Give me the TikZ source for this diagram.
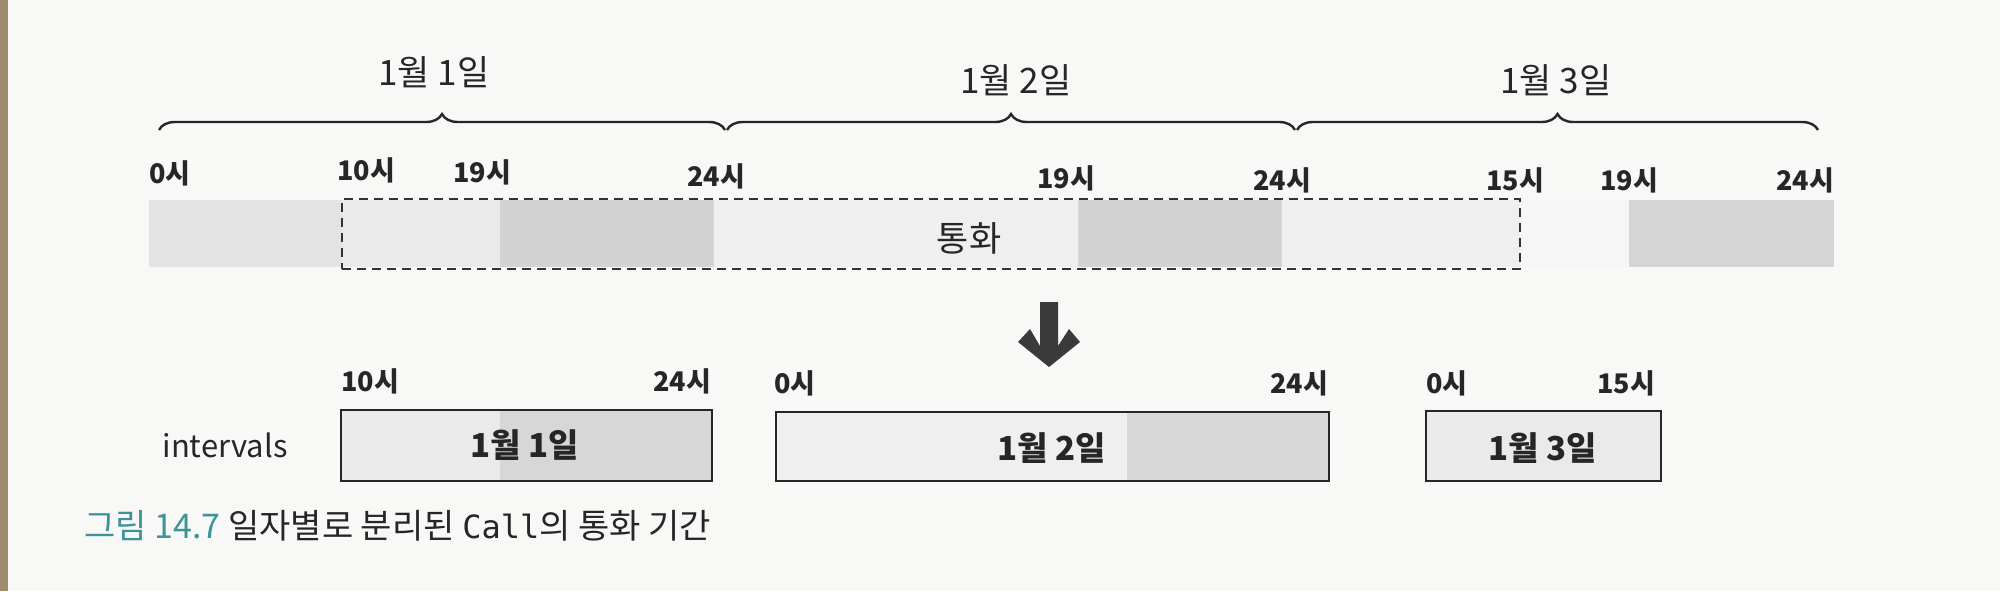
\documentclass[tikz,border=0pt]{standalone}
\usepackage{fontspec}
\setmainfont{Noto Sans CJK KR}
\newfontfamily\monofont{DejaVu Sans Mono}
\usetikzlibrary{decorations.pathreplacing,fit}
\definecolor{bg}{HTML}{F8F8F7}
\definecolor{edge}{HTML}{A08C6C}
\definecolor{txt}{HTML}{262626}
\definecolor{capteal}{HTML}{3C9499}
\definecolor{sA}{HTML}{E3E3E3}
\definecolor{sB}{HTML}{EAEAEA}
\definecolor{sC}{HTML}{D3D3D3}
\definecolor{sD}{HTML}{EFEFEF}
\definecolor{sE}{HTML}{F6F6F6}
\definecolor{arrowc}{HTML}{3A3A3A}
\begin{document}
\begin{tikzpicture}[x=0.5pt,y=-0.5pt,
  hour/.style={font=\fontsize{13.5}{15}\selectfont\bfseries, text=txt, inner sep=0},
  datelbl/.style={font=\fontsize{17.5}{19}\selectfont, text=txt, inner sep=0},
  boxlbl/.style={font=\fontsize{16.5}{18}\selectfont\bfseries, text=txt, inner sep=0},
  bracestyle/.style={decorate, decoration={brace, amplitude=8pt, aspect=0.5}, line width=1.2pt, draw=txt},
  ibox/.style={draw=black!85, line width=1.4pt, inner sep=0},
  callbox/.style={draw=black!80, line width=1.4pt, dash pattern=on 4.5pt off 3pt, inner sep=0}
]
\useasboundingbox (0,0) rectangle (2000,591);
\fill[bg] (0,0) rectangle (2000,591);
\fill[edge] (0,0) rectangle (8,591);

% date labels and braces
\node[datelbl] (d1) at (434,72) {1월 1일};
\node[datelbl] (d2) at (1016,80) {1월 2일};
\node[datelbl] (d3) at (1556,80) {1월 3일};
\coordinate (b1l) at (159,130);
\coordinate (b1r) at (725,130);
\coordinate (b2l) at (727,130);
\coordinate (b2r) at (1295,130);
\coordinate (b3l) at (1297,130);
\coordinate (b3r) at (1818,130);
\draw[bracestyle] (b1l) -- (b1r);
\draw[bracestyle] (b2l) -- (b2r);
\draw[bracestyle] (b3l) -- (b3r);

% hour labels (top)
\node[hour] (h0) at (170,173) {0시};
\node[hour] (h10) at (366,170) {10시};
\node[hour] (h19a) at (482,172) {19시};
\node[hour] (h24a) at (716,176) {24시};
\node[hour] (h19b) at (1066,178) {19시};
\node[hour] (h24b) at (1282,180) {24시};
\node[hour] (h15) at (1515,180) {15시};
\node[hour] (h19c) at (1629,180) {19시};
\node[hour] (h24c) at (1805,180) {24시};

% timeline bar
\fill[sA] (149,200) rectangle (342,267);
\fill[sB] (342,200) rectangle (500,267);
\fill[sC] (500,200) rectangle (714,267);
\fill[sD] (714,200) rectangle (1078,267);
\fill[sC] (1078,200) rectangle (1282,267);
\fill[sD] (1282,200) rectangle (1520,267);
\fill[sE] (1520,200) rectangle (1629,267);
\fill[sC!95!white] (1629,200) rectangle (1834,267);

% call dashed box
\node[callbox, fit={(342,199)(1520,269)}] (call) {};
\node[datelbl] (calllbl) at (969,238) {통화};

% arrow
\fill[arrowc] (1040,302) -- (1058,302) -- (1058,346) -- (1069,329) -- (1080,342)
  -- (1049,367) -- (1018,342) -- (1030,329) -- (1040,346) -- cycle;

% intervals
\node[font=\fontsize{15.5}{17}\selectfont, text=txt, inner sep=0] (intv) at (225,445) {intervals};

\fill[sB] (341,410) rectangle (500,481);
\fill[sC!90!white] (500,410) rectangle (712,481);
\node[ibox, fit={(341,410)(712,481)}] (box1) {};
\node[boxlbl] (box1lbl) at (525,445) {1월 1일};
\node[hour] (l10) at (370,381) {10시};
\node[hour] (l24a) at (682,381) {24시};

\fill[sD] (776,412) rectangle (1127,481);
\fill[sC!90!white] (1127,412) rectangle (1329,481);
\node[ibox, fit={(776,412)(1329,481)}] (box2) {};
\node[boxlbl] (box2lbl) at (1052,448) {1월 2일};
\node[hour] (l0b) at (795,383) {0시};
\node[hour] (l24b) at (1299,383) {24시};

\fill[sB] (1426,411) rectangle (1661,481);
\node[ibox, fit={(1426,411)(1661,481)}] (box3) {};
\node[boxlbl] (box3lbl) at (1543,448) {1월 3일};
\node[hour] (l0c) at (1447,383) {0시};
\node[hour] (l15) at (1626,383) {15시};

% caption
\node[anchor=west, font=\fontsize{17}{19}\selectfont, text=txt, inner sep=0] (cap) at (84,526)
  {{\color{capteal}그림 14.7} 일자별로 분리된 {\monofont\fontsize{16}{18}\selectfont Call}의 통화 기간};
\end{tikzpicture}
\end{document}
